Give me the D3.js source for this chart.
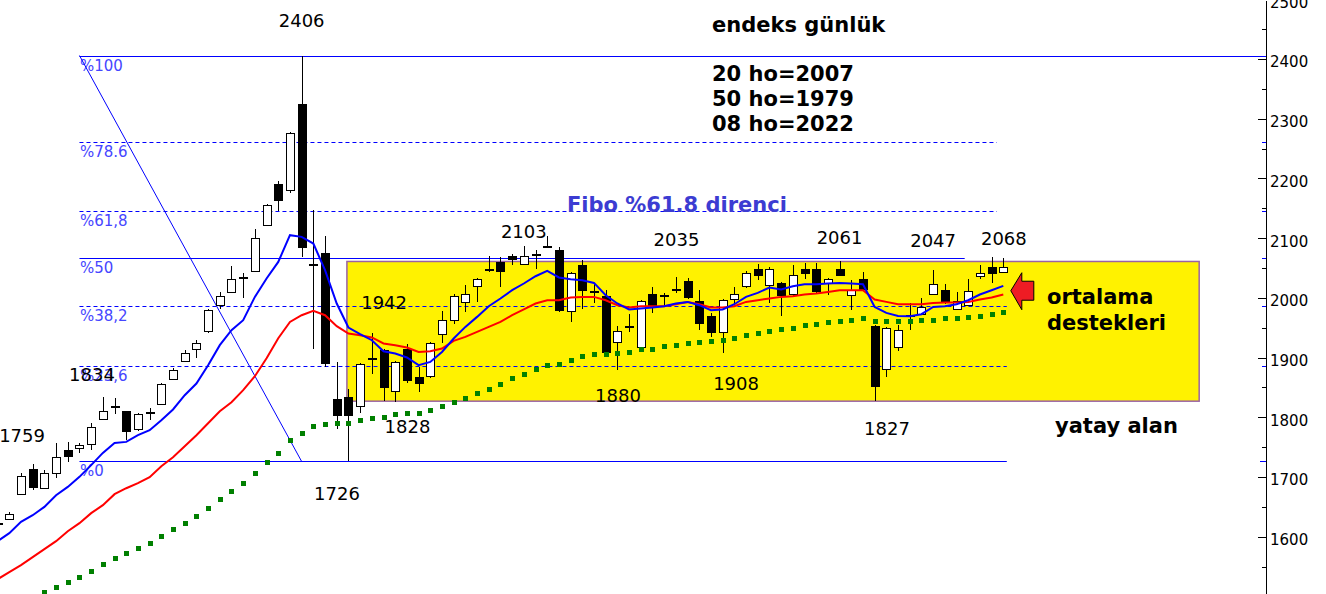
<!DOCTYPE html>
<html><head><meta charset="utf-8">
<script src="https://cdn.jsdelivr.net/npm/d3@7"></script>
<style>html,body{margin:0;padding:0;background:#fff;overflow:hidden}svg{display:block}</style>
</head><body><svg id="c" width="1326" height="594"></svg>
<script>
// ---------- DATA ----------
const dayIndex = d3.range(-1, 86);
const opens  = [1622,1629,1671,1714,1681,1708,1746,1749,1754,1798,1815,1810,1781,1807,1822,1864,1895,1915,1943,1989,2009,2032,2046,2123,2190,2182,2324,2054,2076,1831,1834,1820,1896,1912,1844,1914,1868,1869,1939,1964,1992,2020,2048,2060,2070,2056,2071,2088,2081,1977,2055,2009,2004,1926,1950,1918,2006,2002,2012,2028,1994,1969,1942,1997,2020,2048,2022,2025,2007,2049,2049,2024,2049,2006,2032,1953,1882,1918,1969,1973,2007,2013,1982,1988,2036,2052,2044];
const highs  = [1623,1642,1707,1721,1711,1757,1759,1757,1791,1834,1833,1811,1808,1816,1858,1882,1912,1929,1982,2010,2053,2041,2115,2157,2195,2278,2406,2148,2103,1893,1848,1891,1942,1914,1894,1922,1884,1926,1978,2006,2021,2034,2071,2068,2074,2087,2081,2103,2085,2043,2064,2024,2013,1953,1973,1996,2018,2008,2035,2033,2013,1974,1998,2018,2045,2056,2052,2027,2055,2058,2059,2033,2061,2030,2044,1954,1952,1954,1992,1999,2047,2023,2010,2031,2055,2068,2067];
const lows   = [1621,1628,1670,1678,1680,1698,1725,1741,1746,1797,1806,1762,1777,1796,1821,1863,1893,1899,1942,1981,2009,2000,2046,2122,2145,2176,2069,1914,1884,1781,1726,1807,1872,1828,1826,1857,1842,1865,1925,1956,1977,1993,2044,2018,2055,2055,2049,2083,1977,1960,1982,1991,1906,1880,1943,1917,1975,1986,2008,1998,1947,1934,1908,1988,2017,2030,1992,1969,2002,2032,2009,2005,2036,1980,2013,1827,1867,1911,1947,1972,2006,1990,1979,1987,2032,2025,2043];
const closes = [1622,1638,1701,1683,1706,1734,1735,1754,1783,1811,1819,1774,1806,1809,1855,1879,1908,1925,1979,2004,2031,2035,2101,2156,2161,2277,2082,2056,1890,1803,1802,1890,1898,1848,1893,1861,1857,1925,1963,2004,2006,2032,2045,2044,2063,2070,2072,2084,1978,2041,2012,2010,1908,1944,1951,1995,1986,2003,2013,2000,1956,1941,1996,2006,2041,2037,2049,2003,2038,2040,2010,2031,2037,2014,2014,1850,1950,1946,1970,1984,2023,1992,1995,2011,2041,2041,2052];
// moving averages (blue = 8 day, red = 20 day, green = 50 day)
const ma8  = [1592.5,1605.9,1624.8,1636,1649.9,1669.5,1683.4,1700.2,1719.8,1740.4,1757.1,1758.8,1770,1778.4,1795.1,1813.1,1837,1856.6,1887.3,1920.8,1945.9,1962.6,2001.7,2032.5,2060.3,2105,2102.2,2091.1,2046.4,1990.6,1950.4,1939.2,1929.1,1910.7,1906.9,1900.2,1887.3,1892.8,1909.5,1932,1951.4,1968.2,1986.1,1999,2012.9,2024.1,2036.3,2045.2,2034.2,2031.3,2029.6,2025.1,2004.5,1990.6,1980.6,1982.2,1983.9,1986.1,1990.6,1993.3,1987.8,1979.4,1980.6,1989.4,2001.7,2008.4,2017.4,2014,2019.6,2022.9,2022.9,2024.1,2025.1,2024.1,2022.9,1984.9,1974.9,1969.8,1969.3,1972.7,1984.9,1986.1,1989.4,1996.1,2005.7,2012.9,2020.1];
const ma20 = [1528.8,1540.5,1552.3,1565.7,1579.1,1592.5,1609.2,1622.6,1639.4,1652.8,1671.2,1681.2,1689.6,1699.7,1718.1,1733.2,1751.6,1770,1790.1,1810.2,1825.3,1845.4,1868.8,1899,1932.5,1959.8,1971,1978.2,1971,1952.6,1940.4,1937.5,1933.7,1923.6,1920.8,1916.9,1909.5,1910.7,1915.2,1928,1934.7,1943,1951.4,1959.8,1971,1980.6,1990.6,1996.1,1996.1,2000.7,2001.7,2001.7,1996.1,1987.8,1983.9,1986.1,1986.1,1986.1,1989.4,1993.3,1989.4,1983.9,1983.9,1986.1,1993.3,1996.1,1999,2001.7,2002.8,2005.7,2007.4,2010,2012.9,2012.9,2012.9,1997.3,1993.3,1989.4,1989.4,1989.4,1991.6,1992.3,1992.3,1993.3,1997.3,2000.7,2005.7];
const ma50 = [null,null,null,null,1507.5,1516,1524.3,1532.7,1542.2,1553.9,1564.5,1571.9,1581.2,1589.6,1600.8,1612.1,1623.1,1634.3,1648.2,1662.3,1676.7,1690.1,1705.9,1724.3,1741,1761.6,1774.5,1785.6,1789.6,1790.6,1790.6,1795.1,1798,1800.7,1804.7,1806.4,1808,1811.9,1818.6,1825.8,1832.5,1840.9,1848.2,1855.4,1865,1871.7,1880.1,1887.3,1890.1,1896.8,1902.3,1905.7,1905.7,1907.9,1909.5,1913.6,1915.2,1919.1,1921.9,1924.6,1926.3,1927.5,1930.3,1933,1937.5,1940.4,1944.7,1947.1,1950.4,1953.8,1956.4,1958.8,1962.1,1963.8,1965.5,1961.5,1961.5,1961.5,1961.5,1962.6,1963.8,1965.5,1966,1968.2,1969.8,1973.2,1976.5];

const yTickValues = [1600,1700,1800,1900,2000,2100,2200,2300,2400,2500];
const yMinorTicks = [1550,1650,1750,1850,1950,2050,2150,2250,2350,2450];

const fibHigh = 2406, fibLow = 1726;
const fibRatios = [1, 0.786, 0.618, 0.5, 0.382, 0.236, 0];
const fibLabels = ["%100", "%78.6", "%61,8", "%50", "%38,2", "%23,6", "%0"];
const fibDashed = [false, true, true, false, true, true, false];
const fibEndIdx = [null, 84.45, 84.45, 81.7, 85.3, 85.3, 85.3];
const fibStartIdx = 6, fibDiagEndIdx = 25;

const zoneTop = 2061, zoneBottom = 1827, zoneStartIdx = 28.87, zoneEndIdx = 101.75;

const noteTexts = ["2406","2103","2035","2061","2047","2068","1942","1828","1880","1908","1827","1726","1834","1759"];
const noteIdx   = [25, 44, 57.05, 71, 79, 85.05, 32.05, 34.05, 52.05, 62.15, 75.05, 28.02, 7.07, 1.09];
const noteVals  = [2465, 2112, 2097.5, 2101, 2096.5, 2100, 1993, 1785, 1837, 1857, 1782, 1673, 1871.5, 1769];

const titleText = "endeks günlük";
const infoLines = ["20 ho=2007", "50 ho=1979", "08 ho=2022"];
const fiboNote = "Fibo %61.8 direnci";
const supportNote = ["ortalama", "destekleri"];
const zoneNote = "yatay alan";

// ---------- CHART ----------
const W = 1326, H = 594, axisX = 1266;
const FONT = "'DejaVu Sans', Verdana, sans-serif";
const svg = d3.select("#c");
const x = d3.scaleLinear().domain([0, 85]).range([9.3, 1003.3]);
const y = d3.scaleLinear().domain([1504, 2499]).range([H, 0]);

// yellow horizontal zone
svg.append("rect")
  .attr("x", x(zoneStartIdx)).attr("y", y(zoneTop))
  .attr("width", x(zoneEndIdx) - x(zoneStartIdx))
  .attr("height", y(zoneBottom) - y(zoneTop))
  .attr("fill", "#fff200").attr("stroke", "#9a62a6").attr("stroke-width", 1.5);

// fibonacci lines
const fibG = svg.append("g");
fibRatios.forEach((r, k) => {
  const v = fibLow + r * (fibHigh - fibLow);
  const yy = Math.round(y(v)) + 0.5;
  const xEnd = fibEndIdx[k] == null ? axisX : x(fibEndIdx[k]);
  fibG.append("line")
    .attr("x1", x(fibStartIdx)).attr("x2", xEnd)
    .attr("y1", yy).attr("y2", yy)
    .attr("stroke", "#0000ff").attr("stroke-width", 1)
    .attr("stroke-dasharray", fibDashed[k] ? "4,3" : null);
  if (k > 0) {
    fibG.append("line")
      .attr("x1", k === 6 ? axisX - 6 : axisX - 4).attr("x2", axisX)
      .attr("y1", yy).attr("y2", yy)
      .attr("stroke", "#0000ff").attr("stroke-width", 1);
  }
  fibG.append("text")
    .attr("x", x(fibStartIdx) + 0.5).attr("y", y(v) + 10)
    .attr("dominant-baseline", "central")
    .attr("font-family", FONT).attr("font-size", 15)
    .attr("fill", "#4646ff")
    .text(fibLabels[k]);
});
// fibonacci trend line
fibG.append("line")
  .attr("x1", x(fibStartIdx)).attr("y1", y(fibHigh))
  .attr("x2", x(fibDiagEndIdx)).attr("y2", y(fibLow))
  .attr("stroke", "#0000ff").attr("stroke-width", 1);

// candles
const cg = svg.append("g").attr("shape-rendering", "crispEdges");
dayIndex.forEach((j, i) => {
  const cx = Math.round(x(j));
  const o = opens[i], c = closes[i], hi = highs[i], lo = lows[i];
  cg.append("line")
    .attr("x1", cx + 0.5).attr("x2", cx + 0.5)
    .attr("y1", y(hi)).attr("y2", y(lo))
    .attr("stroke", "#000").attr("stroke-width", 1);
  const top = y(Math.max(o, c)), bot = y(Math.min(o, c));
  if (bot - top < 2.5) {
    cg.append("rect").attr("x", cx - 4).attr("y", Math.round((top + bot) / 2) - 1)
      .attr("width", 9).attr("height", 2).attr("fill", "#000");
  } else if (c >= o) {
    cg.append("rect").attr("x", cx - 3.5).attr("y", Math.round(top) + 0.5)
      .attr("width", 8).attr("height", Math.round(bot - top))
      .attr("fill", "#fff").attr("stroke", "#000").attr("stroke-width", 1);
  } else {
    cg.append("rect").attr("x", cx - 4).attr("y", Math.round(top))
      .attr("width", 9).attr("height", Math.round(bot - top))
      .attr("fill", "#000");
  }
});

// moving averages
const lineGen = d3.line().defined(d => d[1] != null).x(d => x(d[0])).y(d => y(d[1]));
svg.append("path").datum(dayIndex.map((j, i) => [j, ma20[i]]))
  .attr("d", lineGen).attr("fill", "none").attr("stroke", "#ff0000").attr("stroke-width", 2);
svg.append("path").datum(dayIndex.map((j, i) => [j, ma8[i]]))
  .attr("d", lineGen).attr("fill", "none").attr("stroke", "#0000ff").attr("stroke-width", 2);
svg.append("g").selectAll("rect")
  .data(dayIndex.map((j, i) => [j, ma50[i]]).filter(d => d[1] != null))
  .join("rect")
  .attr("x", d => Math.round(x(d[0])) - 2).attr("y", d => Math.round(y(d[1])) - 2)
  .attr("width", 5).attr("height", 5).attr("fill", "#008000");

// right axis
const axG = svg.append("g").attr("transform", `translate(${axisX},0)`);
axG.call(d3.axisRight(y).tickValues(yTickValues).tickSize(-8).tickSizeOuter(0).tickPadding(4).tickFormat(d3.format("d")));
axG.append("g").call(d3.axisRight(y).tickValues(yMinorTicks).tickSize(-4).tickSizeOuter(0).tickFormat(""))
  .select(".domain").remove();
axG.selectAll("path,line").attr("stroke", "#000").attr("shape-rendering", "crispEdges");
axG.selectAll("text").attr("font-family", FONT).attr("font-size", 15).attr("fill", "#000").attr("dy", "0.52em");

// number annotations
svg.append("g").selectAll("text").data(noteTexts).join("text")
  .attr("x", (d, i) => x(noteIdx[i])).attr("y", (d, i) => y(noteVals[i]))
  .attr("text-anchor", "middle").attr("dominant-baseline", "central")
  .attr("font-family", FONT).attr("font-size", 18).attr("fill", "#000")
  .text(d => d);

// bold comments
const bold = (txt, px, py, fill) => svg.append("text")
  .attr("x", px).attr("y", py).attr("dominant-baseline", "central")
  .attr("font-family", FONT).attr("font-weight", "bold").attr("font-size", 21)
  .attr("fill", fill || "#000").text(txt);
bold(titleText, 712, 25);
infoLines.forEach((t, k) => bold(t, 712, 74 + 25 * k));
bold(fiboNote, 567, 205, "#3c3cd2");
bold(supportNote[0], 1047, 297);
bold(supportNote[1], 1047, 323);
bold(zoneNote, 1055, 426);

// red arrow pointing at the averages
const tipX = x(85) + 7.5, tipY = y(2012);
svg.append("path")
  .attr("d", d3.line()([[0,0],[11,-18],[11,-9.5],[23,-9.5],[23,9.5],[11,9.5],[11,19],[0,0]]))
  .attr("transform", `translate(${tipX},${tipY})`)
  .attr("fill", "#ee1c24").attr("stroke", "#000").attr("stroke-width", 1);
</script></body></html>
